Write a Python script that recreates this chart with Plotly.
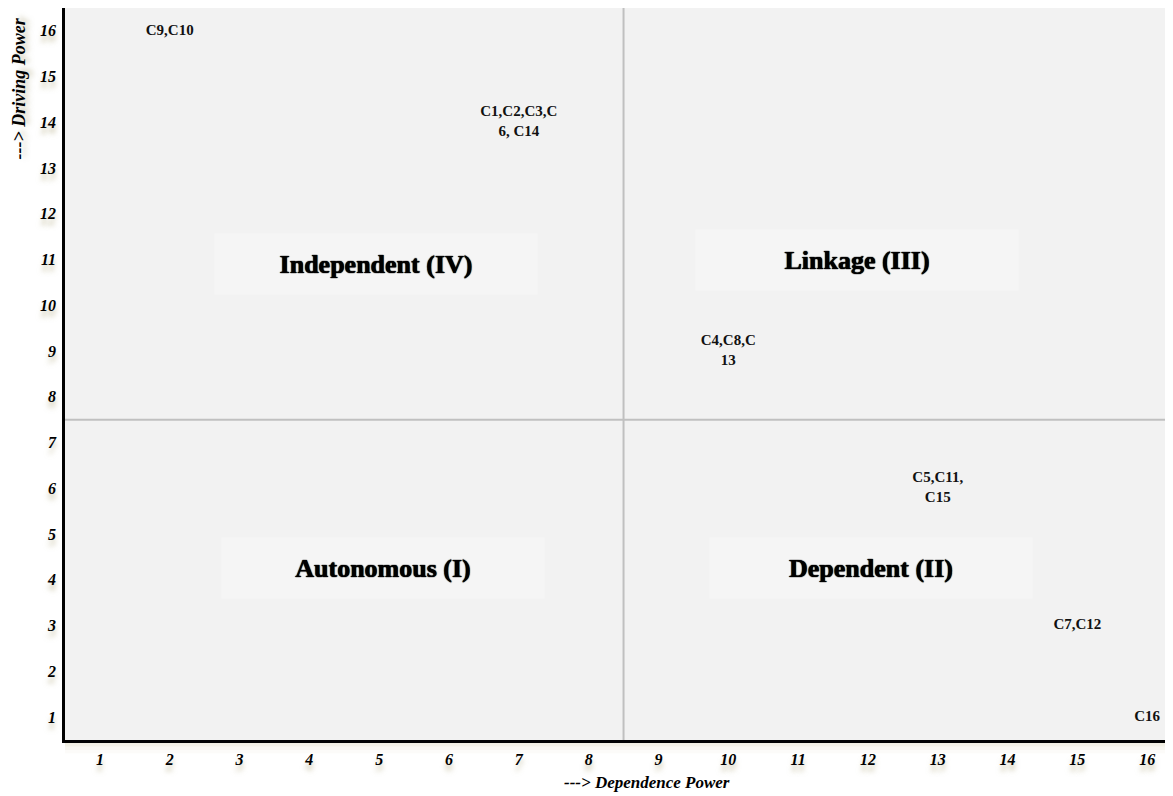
import plotly.graph_objects as go

# Data
dependence = [2, 7, 10, 13, 15, 16]
driving = [16, 14, 9, 6, 3, 1]
point_labels = ["C9,C10", "C1,C2,C3,C<br>6, C14", "C4,C8,C<br>13", "C5,C11,<br>C15", "C7,C12", "C16"]

quad_names = ["Independent (IV)", "Linkage (III)", "Autonomous (I)", "Dependent (II)"]
quad_x = [4.95, 11.85, 5.05, 12.05]
quad_y = [10.9, 11.0, 4.26, 4.26]

x_ticks = list(range(1, 17))
y_ticks = list(range(1, 17))
x_split = 8.5
y_split = 7.5

SERIF = "'Times New Roman', 'Liberation Serif', serif"
SHADOW = "0px 6px 5px rgba(170,160,115,0.55)"

fig = go.Figure()

fig.add_trace(go.Scatter(
    x=dependence, y=driving, mode="text", text=point_labels,
    textposition="middle center",
    textfont=dict(family=SERIF, size=15, color="#111111", weight="bold"),
    hoverinfo="skip", showlegend=False,
))

# quadrant dividers
fig.add_shape(type="line", xref="x", yref="paper", x0=x_split, x1=x_split, y0=0, y1=1,
              line=dict(color="#c0c0c0", width=2), layer="below")
fig.add_shape(type="line", xref="paper", yref="y", x0=0, x1=1, y0=y_split, y1=y_split,
              line=dict(color="#c0c0c0", width=2), layer="below")

# soft shadow under the x axis line
for i, a in enumerate([0.35, 0.22, 0.12, 0.05]):
    fig.add_shape(type="rect", xref="paper", yref="paper",
                  x0=0, x1=1, y0=-0.0045 * (i + 1), y1=-0.0045 * i,
                  fillcolor=f"rgba(190,180,130,{a})", line=dict(width=0), layer="below")

for name, qx, qy in zip(quad_names, quad_x, quad_y):
    fig.add_annotation(x=qx, y=qy, xref="x", yref="y", text=name, showarrow=False,
                       font=dict(family=SERIF, size=26, color="#000000", weight="bold",
                                 shadow="0px 0px 1px #000, 0px 0px 1px #000"),
                       bgcolor="#f5f5f5", width=320, height=58)

fig.add_annotation(x=0.525, y=-0.0587, xref="paper", yref="paper",
                   text="---> Dependence Power", showarrow=False,
                   font=dict(family=SERIF, size=17, color="#000", weight="bold", style="italic"),
                   xanchor="center", yanchor="middle")
fig.add_annotation(x=-0.0424, y=0.89, xref="paper", yref="paper",
                   text="---> Driving Power", showarrow=False, textangle=-90,
                   font=dict(family=SERIF, size=18, color="#000", weight="bold", style="italic",
                             shadow="2px 4px 5px rgba(170,160,115,0.5)"),
                   xanchor="center", yanchor="middle")

tickfont = dict(family=SERIF, size=16, color="#000", weight="bold", style="italic", shadow=SHADOW)

fig.update_xaxes(range=[0.5, 16.37], tickvals=x_ticks, ticktext=[str(v) for v in x_ticks],
                 showgrid=False, zeroline=False, showline=True, linecolor="#000", linewidth=2.5,
                 ticks="", tickfont=tickfont, ticklabelstandoff=3)
fig.update_yaxes(range=[0.5, 16.5], tickvals=y_ticks, ticktext=[str(v) for v in y_ticks],
                 showgrid=False, zeroline=False, showline=True, linecolor="#000", linewidth=2.5,
                 ticks="", tickfont=tickfont, ticklabelstandoff=3)

fig.update_layout(
    width=1165, height=788,
    margin=dict(l=57, r=0, t=0, b=56),
    plot_bgcolor="#f2f2f2", paper_bgcolor="#ffffff",
    showlegend=False,
)

fig.write_html("out.html")
